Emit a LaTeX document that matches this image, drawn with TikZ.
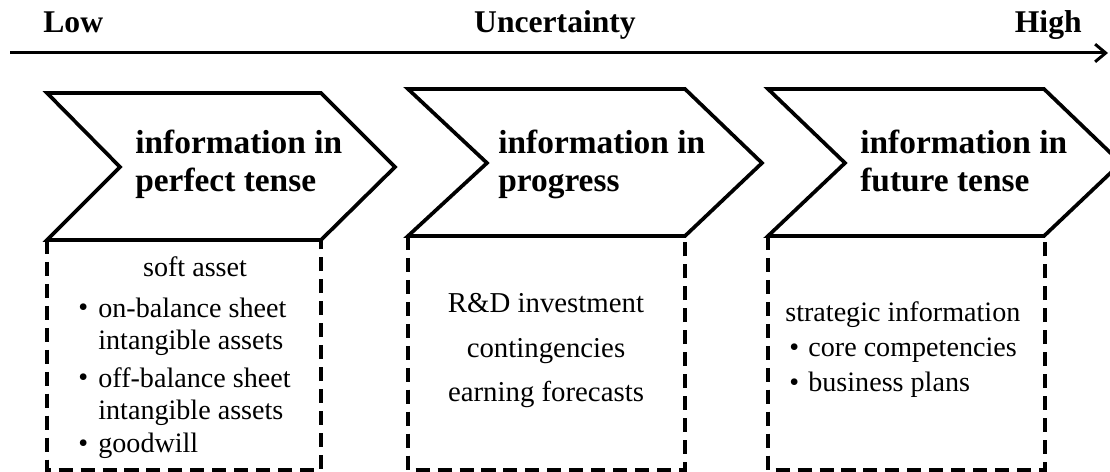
\documentclass[tikz,border=0pt]{standalone}
\usepackage{fontspec}
\setmainfont{Liberation Serif}
\usetikzlibrary{arrows.meta}

\tikzset{
  chevron/.style={line width=2.1pt, line join=miter},
  dashbox/.style={line width=1.9pt, dash pattern=on 8pt off 4.5pt},
  axislabel/.style={font=\fontsize{18}{21}\selectfont\bfseries, inner sep=0pt},
  title/.style={font=\fontsize{19}{22}\selectfont\bfseries, align=left, anchor=base west, inner sep=0pt},
  body/.style={font=\fontsize{16}{18.7}\selectfont, inner sep=0pt},
}

\begin{document}
\begin{tikzpicture}[x=0.02cm, y=-0.02cm]
\useasboundingbox (0,0) rectangle (1110,472);

        % Draw uncertainty axis
        \coordinate (axisstart) at (10,53);
        \coordinate (axisend) at (1108,53);
        \draw[line width=1.7pt, -{Straight Barb[length=6pt,width=10pt]}] (axisstart) -- (axisend);
        \node[axislabel, anchor=base west] (low) at (43,33) {Low};
        \node[axislabel, anchor=base] (uncertainty) at (555,33) {Uncertainty};
        \node[axislabel, anchor=base east] (high) at (1082,33) {High};

        % Draw the three chevrons
        \draw[chevron] (47,93) -- (321,93) -- (395,167) -- (321,240) -- (47,240) -- (120,167) -- cycle;
        \draw[chevron] (408,89) -- (685,89) -- (762,163) -- (685,236) -- (408,236) -- (487,163) -- cycle;
        \draw[chevron] (768,89) -- (1044,89) -- (1121,163) -- (1044,236) -- (768,236) -- (845,163) -- cycle;

        % Chevron titles (placed by the baseline of their last line)
        \node[title] (perfect) at (135,192) {information in\\perfect tense};
        \node[title] (progress) at (498,192) {information in\\progress};
        \node[title] (future) at (860,192) {information in\\future tense};

        % Draw dashed boxes below the chevrons
        \draw[dashbox] (47,240) -- (47,470) -- (321,470) -- (321,240);
        \draw[dashbox] (408,236) -- (408,470) -- (685,470) -- (685,236);
        \draw[dashbox] (768,236) -- (768,470) -- (1045,470) -- (1045,236);

        % Contents of the first box
        \node[body, anchor=base] (softasset) at (195,277) {soft asset};
        \node[body, anchor=base west] (bulleta) at (78,317) {\textbullet};
        \node[body, anchor=base west, align=left] (onbalance) at (98,350) {on-balance sheet\\intangible assets};
        \node[body, anchor=base west] (bulletb) at (78,387) {\textbullet};
        \node[body, anchor=base west, align=left] (offbalance) at (98,420) {off-balance sheet\\intangible assets};
        \node[body, anchor=base west] (bulletc) at (78,453) {\textbullet};
        \node[body, anchor=base west] (goodwill) at (98,453) {goodwill};

        % Contents of the second box
        \node[body, anchor=base, align=center, font=\fontsize{16.4}{25.5}\selectfont] (rnd) at (546,402)
            {R\&D investment\\contingencies\\earning forecasts};

        % Contents of the third box
        \node[body, anchor=base west] (strategic) at (785,322) {strategic information};
        \node[body, anchor=base west] (bulletd) at (789,357) {\textbullet};
        \node[body, anchor=base west] (competencies) at (808,357) {core competencies};
        \node[body, anchor=base west] (bullete) at (789,392) {\textbullet};
        \node[body, anchor=base west] (plans) at (808,392) {business plans};

    \end{tikzpicture}
\end{document}
